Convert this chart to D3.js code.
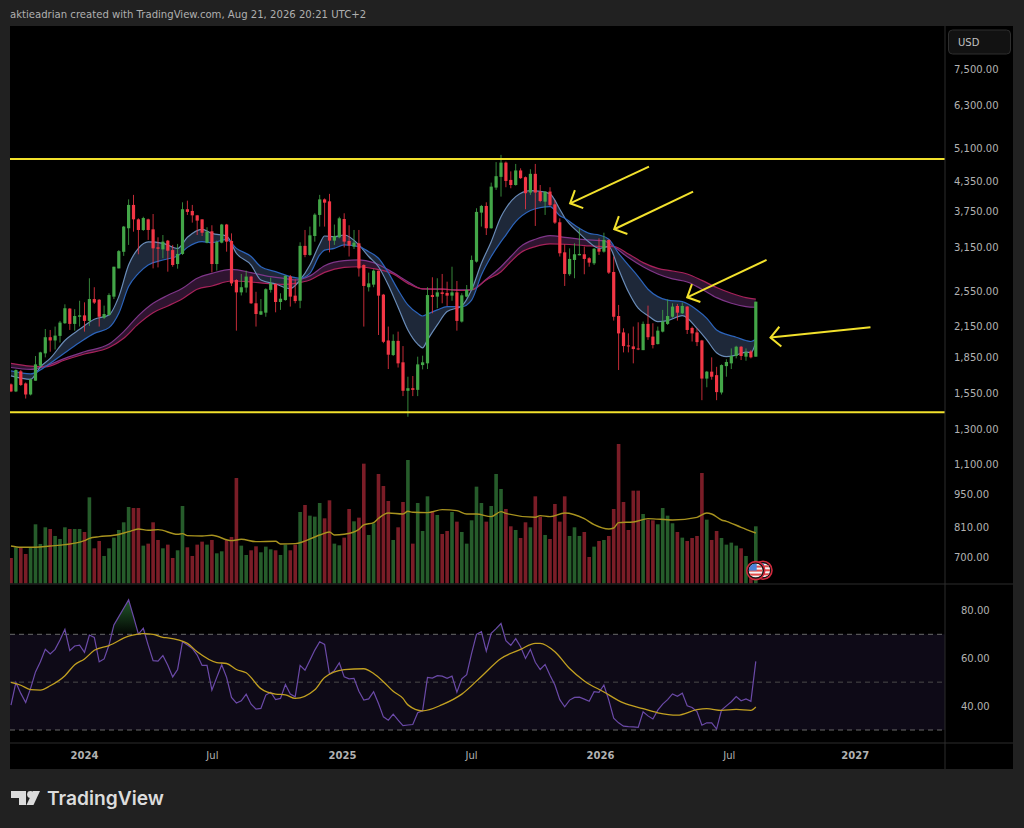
<!DOCTYPE html>
<html>
<head>
<meta charset="utf-8">
<script src="https://cdn.jsdelivr.net/npm/d3@7"></script>
<style>
html, body { margin: 0; padding: 0; background: #212121; }
svg { display: block; }
text { font-family: "DejaVu Sans", sans-serif; }
</style>
</head>
<body>
<div id="chart"></div>
<script>
const width = 1024, height = 828;

// weekly bars
const opens = [1620,1565,1726,1627,1542,1649,1773,1883,2037,2005,2050,2180,2341,2173,2250,2265,2205,2452,2444,2240,2269,2481,2846,3085,3459,3874,3612,3430,3612,3441,3152,3122,3257,3111,2907,3053,3794,3763,3683,3612,3225,3408,2907,3225,3522,3252,2690,2533,2593,2735,2402,2273,2295,2564,2638,2417,2440,2735,2493,2432,3175,3038,3331,3690,3980,3942,3257,3310,3618,3252,3164,3215,2893,2597,2630,2815,2505,2005,1868,2001,1803,1570,1590,1577,1779,1794,2500,2481,2533,2526,2493,2533,2198,2481,2564,2941,3732,3855,3459,4215,4440,4759,4375,4268,4581,4433,4114,4506,4134,3936,4134,3886,3561,3077,2766,2965,3033,3048,2990,2917,3132,3087,3268,2797,2258,2085,1957,1948,1929,1913,2173,2043,1970,2093,2173,2250,2371,2288,2364,2131,2085,2005,1666,1723,1694,1557,1770,1794,1859,1945,1853,1901,1853];
const highs = [1627,1742,1737,1635,1666,1859,1898,2120,2110,2145,2205,2390,2345,2334,2432,2413,2713,2597,2452,2375,2522,2869,3111,3498,3980,4068,3630,3658,3624,3707,3310,3347,3268,3190,3205,3924,3955,3874,3690,3612,3476,3510,3257,3533,3533,3374,2700,2770,2815,2744,2540,2452,2584,2722,2646,2522,2756,2756,2700,3231,3430,3487,3720,4068,3998,4088,3522,3658,3720,3510,3430,3430,2902,2788,2833,2815,2514,2145,2065,2093,1951,1681,1687,1853,1862,2597,2726,2713,2770,2668,2869,2677,2522,2625,3029,3812,3874,3924,4317,4770,4940,4784,4560,4728,4629,4448,4608,4728,4268,4134,4222,3967,3630,3200,3137,3215,3459,3164,3005,3143,3294,3385,3278,3015,2383,2127,2075,2145,2190,2198,2375,2180,2145,2326,2448,2402,2394,2410,2371,2145,2127,2011,1729,1847,1764,1785,1830,1929,1954,1951,1929,1913,2421];
const lows = [1560,1560,1607,1512,1535,1649,1764,1847,1898,1919,1985,2173,2110,2103,2145,2093,2152,2394,2145,2225,2262,2452,2846,3024,3190,3402,3048,3414,3268,2846,2860,2990,2801,2869,2842,3038,3690,3555,3347,3331,3215,2792,2815,3215,3087,2613,2103,2495,2530,2394,2145,2269,2250,2530,2299,2326,2432,2364,2402,2345,3005,3024,3241,3487,3487,3077,3190,3294,3152,3015,3127,2735,2145,2544,2597,2059,1979,1745,1859,1758,1530,1384,1530,1530,1742,1745,2288,2345,2402,2371,2432,2103,2187,2473,2556,2927,3487,3347,3453,4168,4034,4222,4201,4255,4397,3794,4068,3498,3924,3690,3843,3533,3015,2613,2744,2713,3033,2766,2869,2893,3038,3072,2770,2208,1737,1892,1892,1794,1913,1913,2011,1929,1967,2085,2162,2240,2208,2280,2069,1995,1951,1500,1597,1657,1500,1542,1681,1745,1838,1823,1817,1838,1853];
const closes = [1565,1737,1615,1542,1660,1785,1892,2037,2005,2053,2187,2345,2173,2258,2265,2205,2452,2410,2250,2280,2500,2869,3095,3487,3874,3612,3430,3635,3430,3137,3132,3241,3101,2893,3053,3794,3745,3683,3590,3385,3402,2907,3236,3522,3241,2646,2533,2597,2735,2402,2280,2311,2572,2646,2417,2456,2744,2481,2428,3175,3038,3342,3695,3980,3917,3257,3331,3630,3241,3180,3225,2846,2613,2646,2815,2493,1992,1871,2001,1794,1570,1590,1577,1785,1803,2500,2477,2533,2514,2493,2533,2205,2497,2564,2965,3745,3855,3459,4235,4455,4759,4353,4268,4581,4412,4101,4506,4114,3949,4134,3874,3555,3063,2770,2980,3048,3053,2980,2927,3132,3087,3268,2788,2250,2075,1951,1948,1923,1919,2173,2037,1961,2103,2198,2258,2364,2295,2371,2110,2075,1989,1666,1723,1681,1560,1779,1806,1859,1945,1859,1895,1847,2421];
const volumes = [760,1080,1080,880,1080,1770,1180,1680,1630,1420,1330,1680,1630,1630,1630,1540,2580,1050,1270,820,1050,1370,1600,1830,2290,2260,2260,1130,1190,1830,1300,1050,1160,760,990,2320,1080,820,1160,1250,1160,1300,900,960,1300,1390,3160,1130,850,990,1110,930,1100,1020,990,850,1160,990,1160,2140,2350,2030,2000,2410,1950,2490,1190,1140,1370,2230,1860,1970,3590,1450,1800,3280,2920,2470,1300,1680,2440,3700,1190,2410,1570,2610,2170,2050,1480,1570,2140,1850,1540,1190,1890,2900,2410,1850,2320,3280,2830,2230,1710,1600,1360,1830,1680,2610,2000,1450,1330,2380,1850,2610,1420,1680,1420,1540,790,1100,1270,1300,1420,2230,4180,2440,1600,2780,2780,2080,1910,1890,1770,2260,2030,1800,1540,1370,1270,1360,1420,3310,1910,1300,1570,1360,1160,1220,1130,1050,820,550,1710];
const rsi = [40.4,49.9,45.3,41.5,47.4,54.3,58.5,63.7,61.8,63.7,67.6,72.1,63.2,65.1,65.5,62.5,69.7,68.7,58.5,59.7,65.5,73.9,77.4,80.9,84.4,77.4,70.1,72.5,65.5,59.0,58.8,61.1,57.1,52.2,55.3,66.9,65.5,64.1,61.3,57.0,57.0,46.7,52.0,57.3,52.0,43.6,41.3,42.2,45.0,40.8,38.7,39.0,44.6,45.8,42.7,43.2,49.0,45.0,43.9,57.0,55.0,59.2,63.4,66.9,65.8,53.4,54.8,58.1,52.2,51.4,51.6,46.2,42.5,43.0,46.0,41.1,35.5,34.1,36.6,34.1,31.8,32.1,32.3,37.2,38.0,52.0,51.7,52.7,52.5,51.6,52.5,45.8,51.4,53.1,62.0,70.0,71.1,63.0,70.4,72.4,74.5,67.3,65.4,68.2,64.8,59.9,63.7,58.3,55.3,57.4,52.9,48.8,42.7,39.7,42.5,43.6,43.7,42.9,42.0,46.0,45.7,48.8,42.5,34.9,33.0,31.6,31.4,31.3,31.1,37.6,35.9,34.6,38.3,40.8,42.7,45.1,44.1,45.4,40.1,39.4,37.7,32.0,33.0,33.0,30.4,38.3,40.1,41.8,44.0,42.2,43.0,42.0,58.7];

// moving averages: [bar, value] at the bars where the line bends
const fastMA = [[0,1688],[4,1660],[6,1764],[8,1838],[11,2005],[14,2117],[17,2222],[20,2269],[22,2481],[24,2893],[26,3137],[28,3236],[31,3215],[34,3137],[36,3310],[39,3441],[41,3374],[44,3331],[46,3063],[49,2893],[51,2690],[54,2638],[57,2580],[59,2690],[61,2893],[63,3205],[64,3331],[66,3320],[68,3347],[71,3190],[73,3015],[75,2869],[77,2625],[79,2356],[81,2110],[83,1970],[84,1935],[85,2011],[87,2162],[89,2307],[92,2371],[94,2564],[96,2917],[98,3241],[100,3658],[101,3812],[103,4034],[106,4154],[108,4141],[110,4088],[112,3794],[113,3641],[116,3374],[118,3231],[120,3137],[122,3164],[124,2833],[126,2540],[128,2345],[130,2262],[132,2198],[134,2208],[137,2262],[140,2127],[142,2011],[144,1889],[146,1853],[148,1868],[150,1895],[151,1889],[152,1985]];
const slowMA = [[0,1729],[4,1704],[6,1737],[8,1794],[11,1889],[14,1985],[17,2075],[20,2134],[22,2288],[24,2605],[26,2778],[28,2893],[31,2965],[34,3024],[36,3152],[39,3241],[41,3225],[44,3278],[46,3137],[49,3015],[51,2869],[54,2801],[57,2735],[59,2713],[61,2778],[63,3038],[64,3111],[66,3137],[68,3190],[71,3164],[73,3087],[75,2990],[77,2788],[79,2564],[81,2383],[83,2288],[84,2258],[85,2280],[87,2326],[89,2364],[92,2364],[94,2440],[96,2756],[98,3015],[100,3241],[101,3347],[103,3572],[106,3770],[108,3824],[110,3843],[112,3676],[113,3630],[116,3459],[118,3374],[120,3347],[122,3278],[124,3063],[126,2893],[128,2735],[130,2572],[132,2481],[134,2440],[137,2421],[140,2326],[142,2233],[144,2110],[146,2065],[148,2037],[150,2005],[151,1995],[152,2017]];
const longA = [[0,1758],[4,1742],[7,1770],[11,1838],[15,1898],[20,1970],[23,2093],[26,2262],[29,2402],[32,2497],[35,2584],[38,2713],[41,2778],[45,2833],[49,2788],[52,2744],[56,2709],[58,2690],[61,2744],[64,2883],[68,2955],[71,2965],[74,2927],[78,2788],[81,2668],[84,2576],[88,2572],[92,2564],[94,2564],[97,2700],[100,2869],[102,3015],[104,3164],[107,3278],[110,3337],[113,3310],[117,3273],[121,3252],[123,3164],[126,3000],[129,2869],[132,2770],[135,2704],[138,2664],[141,2572],[144,2469],[147,2402],[150,2364],[152,2356]];
const longB = [[0,1794],[4,1770],[7,1764],[11,1823],[15,1877],[20,1938],[23,2027],[26,2173],[29,2295],[32,2371],[35,2456],[38,2572],[41,2613],[45,2677],[49,2664],[52,2646],[56,2634],[58,2646],[61,2690],[64,2792],[68,2860],[71,2869],[74,2842],[78,2770],[81,2646],[84,2576],[88,2572],[92,2556],[94,2564],[97,2690],[100,2801],[102,2941],[104,3072],[107,3164],[110,3205],[113,3200],[117,3180],[121,3164],[123,3164],[126,3053],[129,2927],[132,2846],[135,2810],[138,2770],[141,2685],[144,2593],[147,2522],[150,2469],[152,2452]];
const volMA = [[0,1120],[2,1080],[5,1080],[8,1120],[11,1160],[15,1280],[16,1350],[18,1400],[21,1440],[24,1550],[26,1630],[28,1590],[30,1610],[34,1470],[35,1490],[36,1430],[39,1420],[41,1440],[45,1280],[47,1320],[50,1250],[54,1260],[55,1180],[58,1190],[63,1450],[65,1540],[66,1450],[68,1470],[71,1620],[72,1750],[74,1820],[75,1950],[77,2110],[80,2080],[81,2160],[82,2130],[85,2120],[88,2210],[91,2180],[93,2080],[95,2080],[98,2000],[100,2150],[101,2100],[107,1980],[108,2030],[110,2000],[113,2110],[117,1940],[119,1760],[122,1630],[123,1660],[124,1820],[127,1840],[130,1940],[135,1900],[140,1980],[142,2110],[143,2080],[145,1900],[146,1860],[149,1680],[152,1510]];
const rsiMA = [[0,49.9],[2,48.7],[4,46.9],[6,46.7],[8,48.5],[11,52.7],[13,57.3],[15,59.7],[17,63.3],[20,65.3],[24,69.2],[27,70.3],[29,70.0],[31,68.7],[32,68.5],[36,66.2],[38,62.7],[42,58.2],[44,57.8],[46,55.3],[48,53.9],[51,47.3],[54,45.0],[56,44.7],[58,43.2],[62,46.8],[64,51.9],[68,55.2],[72,55.6],[74,53.6],[76,50.2],[78,46.2],[80,43.2],[81,40.5],[84,38.0],[88,40.6],[92,45.0],[96,52.4],[100,59.9],[104,63.7],[107,66.2],[108,66.2],[111,62.7],[114,55.7],[117,50.5],[121,45.9],[125,41.3],[129,38.9],[132,37.2],[136,36.2],[140,38.5],[142,38.9],[145,38.2],[148,38.6],[151,38.2],[152,39.6]];

// annotations: horizontal levels and arrows [tailBar, tailPrice, tipBar, tipPrice]
const levels = [4843, 1415];
const arrows = [[130.2,4666,114.1,3905],[139.2,4132,123.1,3442],[154.2,2965,138,2473],[175.4,2137,155,2033]];

// axis ticks
const priceTicks = [7500,6300,5100,4350,3750,3150,2550,2150,1850,1550,1300,1100,950,810,700];
const rsiTicks = [80,60,40];
const rsiLevels = [70,50,30];
const timeBars = [14.9,41,67.55,93.9,120.2,146.5,172.2];
const timeLabels = ["2024","Jul","2025","Jul","2026","Jul","2027"];

const titleText = "aktieadrian created with TradingView.com, Aug 21, 2026 20:21 UTC+2";

const up = "#43a648", down = "#f23645";
const upVol = "#265c2b", downVol = "#7a1d27";
const gold = "#f2e12c";

const panel = {left: 10, right: 1013, top: 26, bottom: 769, axisX: 945, sepY: 584, timeY: 743};

const x = d3.scaleLinear().domain([0, 152]).range([11, 755.8]);
const y = d3.scaleLog().domain([7500, 700]).range([69, 557]);
const yVol = d3.scaleLinear().domain([0, 4300]).range([583.3, 440]);
const yRsi = d3.scaleLinear().domain([70, 30]).range([634.3, 730]);

const svg = d3.select("#chart").append("svg").attr("width", width).attr("height", height);

svg.append("rect").attr("width", width).attr("height", height).attr("fill", "#212121");
svg.append("rect").attr("x", panel.left).attr("y", panel.top)
	.attr("width", panel.right - panel.left).attr("height", panel.bottom - panel.top).attr("fill", "#000");

const defs = svg.append("defs");
defs.append("clipPath").attr("id", "plot").append("rect")
	.attr("x", panel.left).attr("y", panel.top)
	.attr("width", panel.axisX - panel.left).attr("height", panel.timeY - panel.top);
let grad = defs.append("linearGradient").attr("id", "overbought").attr("gradientUnits", "userSpaceOnUse")
	.attr("x1", 0).attr("x2", 0).attr("y1", yRsi(85)).attr("y2", yRsi(70));
grad.append("stop").attr("offset", 0).attr("stop-color", "#2a6b34").attr("stop-opacity", 0.85);
grad.append("stop").attr("offset", 1).attr("stop-color", "#2a6b34").attr("stop-opacity", 0.05);

const plot = svg.append("g").attr("clip-path", "url(#plot)");

// BANDS
function band(a, b, fill) {
	// a and b share their bars
	const rows = a.map((d, i) => [d[0], d[1], b[i][1]]);
	plot.append("path").datum(rows)
		.attr("fill", fill)
		.attr("d", d3.area().x(d => x(d[0])).y0(d => y(d[1])).y1(d => y(d[2])).curve(d3.curveMonotoneX));
}
function maLine(g, rows, yScale, color, w) {
	g.append("path").datum(rows)
		.attr("fill", "none")
		.attr("stroke", color)
		.attr("stroke-width", w)
		.attr("d", d3.line().x(d => x(d[0])).y(d => yScale(d[1])).curve(d3.curveMonotoneX));
}

band(longA, longB, "#2f1430");
band(fastMA, slowMA, "#1e2839");
maLine(plot, longA, y, "#7f3689", 1.2);
maLine(plot, longB, y, "#a8225a", 1.2);
maLine(plot, fastMA, y, "#6a8cb8", 1.2);
maLine(plot, slowMA, y, "#2c64bb", 1.2);

// CANDLES
const bars = d3.range(opens.length);
plot.append("g").selectAll("line").data(bars).join("line")
	.attr("x1", i => x(i)).attr("x2", i => x(i))
	.attr("y1", i => y(highs[i])).attr("y2", i => y(lows[i]))
	.attr("stroke", i => closes[i] >= opens[i] ? up : down)
	.attr("stroke-opacity", 0.8)
	.attr("stroke-width", 1);
plot.append("g").selectAll("rect").data(bars).join("rect")
	.attr("x", i => x(i) - 1.6).attr("width", 3.2)
	.attr("y", i => y(Math.max(opens[i], closes[i])))
	.attr("height", i => Math.max(1, y(Math.min(opens[i], closes[i])) - y(Math.max(opens[i], closes[i]))))
	.attr("fill", i => closes[i] >= opens[i] ? up : down);

// VOLUME
plot.append("g").selectAll("rect").data(bars).join("rect")
	.attr("x", i => x(i) - 1.8).attr("width", 3.6)
	.attr("y", i => yVol(volumes[i]))
	.attr("height", i => yVol(0) - yVol(volumes[i]))
	.attr("fill", i => closes[i] >= opens[i] ? upVol : downVol);
maLine(plot, volMA, yVol, "#a8931f", 1.4);

// levels and arrows
plot.append("g").selectAll("line").data(levels).join("line")
	.attr("x1", panel.left).attr("x2", panel.axisX)
	.attr("y1", d => y(d)).attr("y2", d => y(d))
	.attr("stroke", gold).attr("stroke-width", 2);

arrows.forEach(a => {
	const tx = x(a[2]), ty = y(a[3]), sx = x(a[0]), sy = y(a[1]);
	const ang = Math.atan2(sy - ty, sx - tx);
	const arm = s => [tx + 14 * Math.cos(ang + s * Math.PI / 4), ty + 14 * Math.sin(ang + s * Math.PI / 4)];
	const g = plot.append("g").attr("fill", "none").attr("stroke", gold).attr("stroke-width", 2).attr("stroke-linejoin", "miter");
	g.append("path").attr("d", d3.line()([[sx, sy], [tx, ty]]));
	g.append("path").attr("d", d3.line()([arm(-1), [tx, ty], arm(1)]));
});

// us flag marker
function flag(cx, cy) {
	const g = svg.append("g").attr("transform", `translate(${cx},${cy})`);
	g.append("circle").attr("r", 9).attr("fill", "#111").attr("stroke", "#cf2a3d").attr("stroke-width", 1.6);
	const id = "fl" + Math.round(cx);
	defs.append("clipPath").attr("id", id).append("circle").attr("r", 7);
	const f = g.append("g").attr("clip-path", `url(#${id})`);
	f.append("rect").attr("x", -7).attr("y", -7).attr("width", 14).attr("height", 14).attr("fill", "#f4f4f4");
	[-5, -1, 3].forEach(s => f.append("rect").attr("x", -7).attr("y", s).attr("width", 14).attr("height", 2).attr("fill", "#e04a4a"));
	f.append("rect").attr("x", -7).attr("y", -7).attr("width", 8).attr("height", 7).attr("fill", "#4a82d8");
}
flag(763, 570.3);
flag(755.7, 570.6);

// RSI
const rsiPane = plot.append("g");
rsiPane.append("rect")
	.attr("x", panel.left).attr("width", panel.axisX - panel.left)
	.attr("y", yRsi(70)).attr("height", yRsi(30) - yRsi(70))
	.attr("fill", "#0e0a17");
rsiPane.append("path").datum(bars)
	.attr("fill", "url(#overbought)")
	.attr("d", d3.area().x(i => x(i)).y0(yRsi(70)).y1(i => yRsi(Math.max(rsi[i], 70))));
rsiPane.selectAll("line").data(rsiLevels).join("line")
	.attr("x1", panel.left).attr("x2", panel.axisX)
	.attr("y1", d => yRsi(d)).attr("y2", d => yRsi(d))
	.attr("stroke", d => d == 50 ? "#4a4a4a" : "#6a6a6a")
	.attr("stroke-width", 1)
	.attr("stroke-dasharray", "5 4");
rsiPane.append("path").datum(bars)
	.attr("fill", "none").attr("stroke", "#6b4aa8").attr("stroke-width", 1.2)
	.attr("d", d3.line().x(i => x(i)).y(i => yRsi(rsi[i])));
maLine(rsiPane, rsiMA, yRsi, "#c2a021", 1.3);

// FRAME
const frame = svg.append("g").attr("stroke", "#2c2c2c").attr("stroke-width", 1);
frame.append("line").attr("x1", panel.left).attr("x2", panel.right).attr("y1", panel.sepY).attr("y2", panel.sepY);
frame.append("line").attr("x1", panel.left).attr("x2", panel.right).attr("y1", panel.timeY).attr("y2", panel.timeY);
frame.append("line").attr("x1", panel.axisX).attr("x2", panel.axisX).attr("y1", panel.top).attr("y2", panel.bottom);

// AXES
function styleAxis(g) {
	g.select(".domain").remove();
	g.selectAll("line").remove();
	g.selectAll("text").attr("fill", "#b2b2b2").style("font-size", "10px");
}
svg.append("g").attr("transform", `translate(${panel.axisX},0)`)
	.call(d3.axisRight(y).tickValues(priceTicks).tickFormat(d3.format(",.2f")).tickSize(0).tickPadding(9))
	.call(styleAxis);
svg.append("g").attr("transform", `translate(${panel.axisX},0)`)
	.call(d3.axisRight(yRsi).tickValues(rsiTicks).tickFormat(d3.format(".2f")).tickSize(0).tickPadding(16))
	.call(styleAxis);
svg.append("g").attr("transform", `translate(0,${panel.timeY})`)
	.call(d3.axisBottom(x).tickValues(timeBars).tickFormat((d, i) => timeLabels[i]).tickSize(0).tickPadding(9))
	.call(styleAxis)
	.selectAll("text").each(function (d, i) {
		if (timeLabels[i] != "Jul") d3.select(this).style("font-weight", "bold");
	});

// USD box
svg.append("rect").attr("x", 948.5).attr("y", 30).attr("width", 62).attr("height", 24).attr("rx", 4)
	.attr("fill", "#121212").attr("stroke", "#2e2e2e");
svg.append("text").attr("x", 958).attr("y", 46).attr("fill", "#c0c0c0").style("font-size", "10px").text("USD");

// HEADER AND FOOTER
svg.append("text").attr("x", 10).attr("y", 18).attr("fill", "#b0b0b0").style("font-size", "10.1px").text(titleText);

const logo = svg.append("g").attr("fill", "#dcdcdc");
logo.append("path").attr("d", "M11 791H26V805H19V798H11Z");
logo.append("circle").attr("cx", 30.5).attr("cy", 794.5).attr("r", 3.4);
logo.append("path").attr("d", "M33 791H40L33.5 805H26.5Z");
svg.append("text").attr("x", 47).attr("y", 805).attr("fill", "#dcdcdc")
	.style("font-family", "Inter, sans-serif").style("font-weight", 600).style("font-size", "19.2px")
	.text("TradingView");
</script>
</body>
</html>
